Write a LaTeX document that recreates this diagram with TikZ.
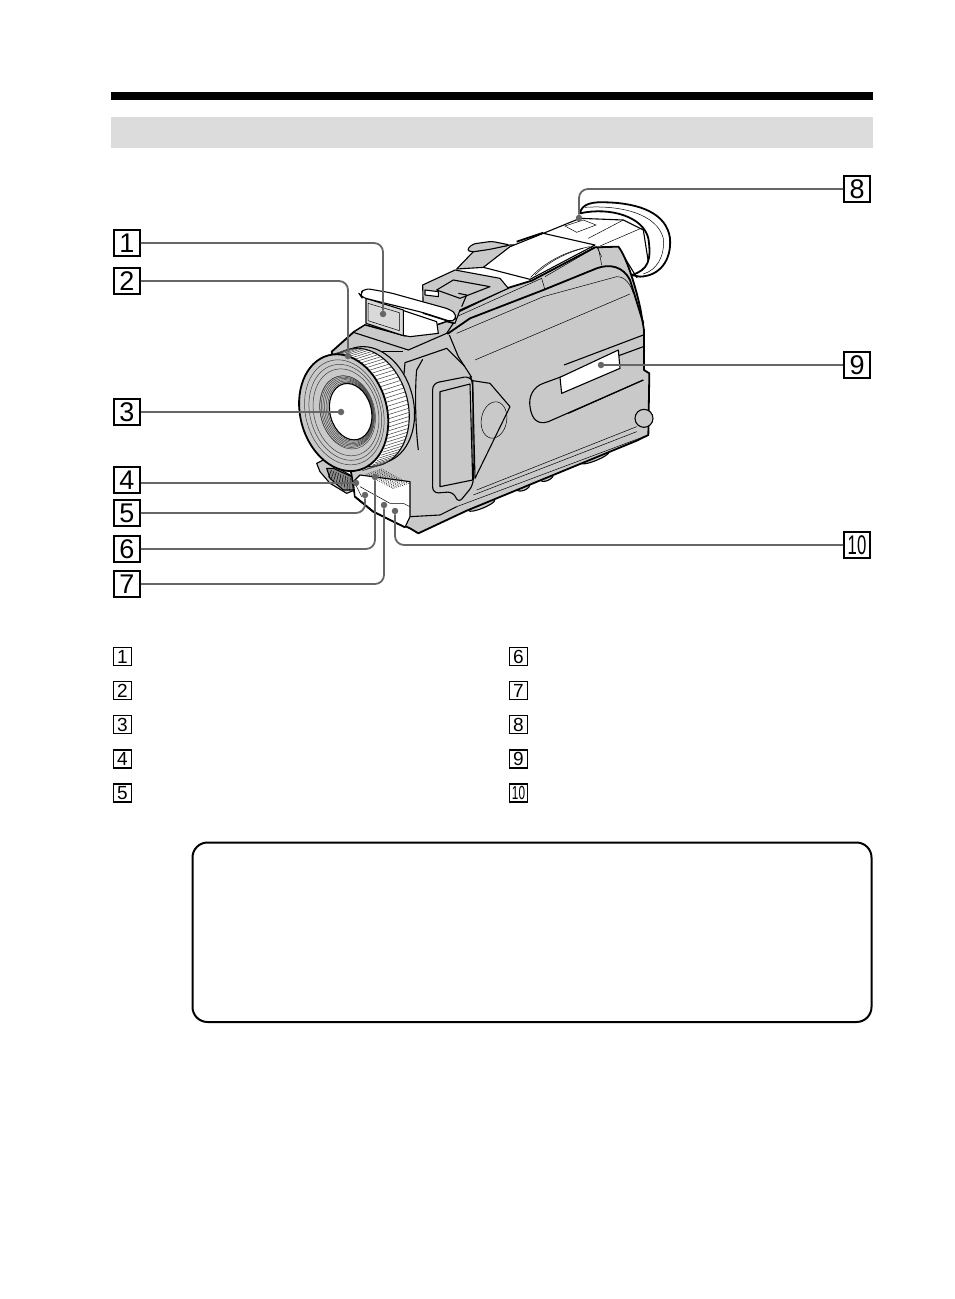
\documentclass[tikz,border=0pt]{standalone}
\usepackage{fontspec}
\setmainfont{Liberation Sans}
\usepackage{graphicx}
\usepackage{tikz}
\definecolor{bodygray}{HTML}{C9C9C9}
\definecolor{leadgray}{HTML}{666666}
\definecolor{bandgray}{HTML}{DCDCDC}
\tikzset{
    bignum/.style={draw=black, line width=1.9pt, minimum size=26pt, inner sep=0pt, font=\fontsize{27}{27}\selectfont},
    smallnum/.style={draw=black, line width=1.3pt, minimum size=18pt, inner sep=0pt, font=\fontsize{19}{19}\selectfont},
    leaddot/.style={circle, fill=leadgray, inner sep=0pt, minimum size=6.5pt},
    leadline/.style={draw=leadgray, line width=1.8pt, rounded corners=9pt},
    outline/.style={draw=black, line width=1.1pt, line join=round},
    heavy/.style={draw=black, line width=1.8pt, line join=round},
    fine/.style={draw=black, line width=0.5pt},
    hatch/.style={draw=black!75, line width=0.5pt}
}
\begin{document}
\begin{tikzpicture}[x=1pt, y=-1pt]
    \useasboundingbox (0, 0) rectangle (954, 1299);
    % Page furniture
    \fill [black] (111, 92) rectangle (873, 100);
    \fill [bandgray] (111, 117) rectangle (873, 148);
    \draw [line width=2pt, rounded corners=15pt] (192.5, 842.5) rectangle (871.5, 1022);
    % Camera, in the units of a 3x crop
    \begin{scope}[shift={(290, 170)}, scale=1/3]
        % Viewfinder tube
        \draw [outline, fill=white] (760, 190) -- (870, 145) -- (1000, 150) -- (1060, 180) -- (1078, 295) -- (1040, 322) -- (985, 232) -- (915, 237) -- cycle;
        % Strap and clip
        \draw [outline, fill=bodygray] (500, 297) -- (550, 245) -- (660, 225) -- (680, 225) -- (582, 292) -- cycle;
        \draw [outline, fill=bodygray, rounded corners=3pt] (530, 240) -- (548, 222) -- (605, 214) -- (660, 225) -- (600, 238) -- (545, 246) -- cycle;
        % Top plate
        \draw [outline, fill=white] (580, 292) -- (660, 230) -- (760, 190) -- (915, 225) -- (720, 328) -- cycle;
        \draw [heavy] (680, 215) -- (760, 188);
        \draw [fine] (722, 322) .. controls (770, 270) and (840, 240) .. (900, 230);
        \draw [fine] (735, 315) .. controls (780, 270) and (840, 245) .. (880, 235);
        \draw [fine] (895, 205) -- (1000, 150);
        \draw [fine] (930, 228) -- (1060, 172);
        \draw [fine, fill=white] (825, 168) -- (880, 150) -- (918, 165) -- (860, 187) -- cycle;
        % Eyecup
        \draw [heavy, fill=white] (870, 130) .. controls (875, 100) and (910, 95) .. (950, 97)
            .. controls (1050, 100) and (1130, 130) .. (1140, 205)
            .. controls (1145, 270) and (1110, 318) .. (1050, 320)
            -- (1025, 315) .. controls (1075, 300) and (1085, 270) .. (1075, 205)
            .. controls (1060, 140) and (960, 110) .. (870, 130) -- cycle;
        \draw [fine] (885, 112) .. controls (990, 105) and (1100, 130) .. (1120, 205) .. controls (1125, 260) and (1100, 300) .. (1060, 312);
        % Feet
        \foreach \footx/\footy/\footr in {575/1006/42, 700/952/20, 770/923/20, 915/863/45} {
            \draw [outline, fill=bodygray, rotate around={22:(\footx, \footy)}] (\footx, \footy) ellipse [x radius=\footr, y radius=9];
        }
        % Body
        \draw [heavy, fill=bodygray] (125, 545) -- (190, 487) -- (225, 465) -- (345, 498) -- (470, 455) -- (495, 430) -- (650, 355) -- (725, 332) -- (915, 232) -- (985, 230)
            .. controls (1010, 260) and (1040, 360) .. (1052, 420)
            -- (1062, 480) -- (1062, 600) -- (1078, 610) -- (1075, 795) -- (1040, 812) -- (530, 1022) -- (385, 1090) -- (360, 1075) -- (250, 1025) -- (195, 980) -- cycle;
        % Shoulder seams
        \draw [fine] (500, 440) -- (755, 325) -- (765, 360);
        \draw [fine] (765, 320) -- (920, 230) -- (935, 260);
        \draw [fine] (925, 232) -- (935, 285);
        % Cover
        \draw [heavy] (472, 492) -- (540, 445) -- (760, 360) -- (920, 295) .. controls (960, 280) and (1000, 290) .. (1020, 330) -- (1060, 460);
        \draw [outline] (478, 495) -- (505, 560) -- (545, 622);
        \draw [fine] (500, 490) -- (760, 380) -- (980, 320) .. controls (1005, 320) and (1020, 340) .. (1030, 370);
        \draw [fine] (555, 570) -- (1020, 372);
        \draw [fine] (550, 975) -- (1040, 785);
        \draw [fine] (560, 960) -- (1040, 770);
        \draw [fine] (500, 1010) -- (1075, 795);
        % Shoe
        \draw [outline, fill=bodygray] (398, 345) -- (495, 300) -- (630, 325) -- (655, 355) -- (510, 420) -- (495, 460) -- (400, 430) -- cycle;
        \draw [outline, fill=bodygray] (440, 360) -- (490, 330) -- (600, 350) -- (510, 385) -- cycle;
        \draw [outline, fill=white] (405, 360) -- (445, 365) -- (445, 380) -- (405, 375) -- cycle;
        \draw [outline] (505, 370) -- (530, 375) -- (515, 410);
        % Flash
        \draw [outline, fill=bodygray] (190, 487) -- (225, 465) -- (345, 498) -- (470, 455) -- (490, 460) -- (470, 490) -- (355, 540) -- cycle;
        \draw [outline, fill=white] (335, 420) -- (440, 455) -- (445, 490) -- (360, 500) -- (335, 495) -- cycle;
        \draw [outline, fill=bodygray!70] (228, 385) -- (340, 420) -- (340, 497) -- (228, 460) -- cycle;
        \draw [fine] (234, 400) -- (328, 428) -- (328, 482) -- (234, 452) -- cycle;
        \draw [outline, fill=white, rounded corners=5pt] (208, 372) -- (225, 355) -- (300, 368) -- (480, 418) -- (502, 435) -- (490, 457) -- (400, 428) -- (215, 382) -- cycle;
        % Cover window
        \draw [outline] (1060, 530) -- (760, 640) .. controls (730, 650) and (715, 680) .. (720, 710) .. controls (725, 750) and (745, 765) .. (775, 755) -- (1060, 630);
        \draw [outline, fill=white] (810, 622) -- (985, 540) -- (990, 595) -- (815, 670) -- cycle;
        \draw [outline] (822, 585) -- (1060, 495);
        \draw [outline] (835, 730) -- (1060, 630);
        % Grip side
        \draw [outline, fill=bodygray] (548, 632) -- (600, 640) -- (660, 710) -- (555, 925) -- cycle;
        \draw [fine, rotate around={-10:(612, 750)}] (612, 750) ellipse [x radius=38, y radius=55];
        \draw [outline, fill=bodygray, rounded corners=6pt] (428, 640) -- (540, 618) -- (548, 635) -- (550, 945) -- (505, 1000) -- (490, 965) -- (428, 970) -- cycle;
        \draw [outline, fill=bodygray] (450, 665) -- (540, 642) -- (548, 930) -- (450, 950) -- cycle;
        % Knob
        \draw [outline, fill=bodygray] (1062, 745) circle (27);
        % Front of the body
        \draw [outline] (342, 612) -- (345, 578) -- (470, 535) -- (525, 590);
        \draw [outline] (385, 840) .. controls (375, 760) and (375, 650) .. (380, 600) -- (398, 568);
        \draw [outline] (175, 545) -- (340, 545);
        \draw [outline] (360, 1040) -- (450, 1035) -- (500, 1010);
        % Focus knob and hatching
        \draw [outline, fill=bodygray] (80, 880) -- (100, 870) -- (180, 915) -- (195, 960) -- (170, 970) -- (120, 940) -- (90, 905) -- cycle;
        \draw [outline, fill=black!45] (110, 895) -- (130, 895) -- (185, 920) -- (190, 960) -- (160, 960) -- (120, 925) -- cycle;
        \foreach \k in {0, 1, ..., 8} {
            \draw [fine] ({125 + \k * 7}, {900 + \k * 3}) -- ({115 + \k * 8}, {922 + \k * 5});
        }
        % Speaker and lower plate
        \draw [outline, fill=white] (190, 935) -- (210, 915) -- (360, 935) -- (360, 1040) -- (345, 1072) -- (250, 1025) -- (195, 980) -- cycle;
        \foreach \rowy in {0, 1, ..., 8} {
            \foreach \colx in {0, 1, ..., 16} {
                \fill [black!85] ({275 + \colx * 5 - \rowy * 5.8}, {897 + \colx * 2.7 + \rowy * 1.9}) circle (1.5);
            }
        }
        \draw [fine] (195, 940) -- (215, 980);
        \draw [fine] (210, 950) -- (300, 1000) -- (340, 1000) -- (360, 1010);
        \draw [heavy] (195, 980) -- (250, 1025) -- (345, 1072);
        % Lens, back ring
        \draw [outline, fill=bodygray, rotate around={15:(240, 705)}] (240, 705) ellipse [x radius=130, y radius=178];
        \draw [outline, fill=white, rotate around={15:(222, 712)}] (222, 712) ellipse [x radius=132, y radius=180];
        % Knurled band
        \foreach \a in {-88, -84, ..., 112} {
            \draw [hatch] ({222 + 132 * cos(\a) * cos(15) - 180 * sin(\a) * sin(15)}, {712 - 132 * cos(\a) * sin(15) - 180 * sin(\a) * cos(15)})
                -- ({165 + 128 * cos(\a) * cos(15) - 180 * sin(\a) * sin(15)}, {730 - 128 * cos(\a) * sin(15) - 180 * sin(\a) * cos(15)});
        }
        % Lens, rings and glass
        \draw [heavy, fill=bodygray, rotate around={15:(161, 728)}] (161, 728) ellipse [x radius=130, y radius=178];
        \foreach \ringx/\ringr in {163/116, 166/106, 168/96, 173/81} {
            \draw [hatch, rotate around={15:(\ringx, 727)}] (\ringx, 727) ellipse [x radius=\ringr, y radius={\ringr * 1.38}];
        }
        \foreach \r in {0, 3, ..., 18} {
            \draw [hatch, rotate around={15:(182 - \r * 0.6, 725)}] ({182 - \r * 0.6}, 725) ellipse [x radius={62 + \r}, y radius={86 + \r * 1.3}];
        }
        \draw [outline, fill=white, rotate around={15:(182, 725)}] (182, 725) ellipse [x radius=62, y radius=86];
    \end{scope}
    % Leader ends
    \node [leaddot] (end1) at (383, 314) {};
    \node [leaddot] (end2) at (348, 356) {};
    \node [leaddot] (end3) at (341, 412) {};
    \node [leaddot] (end4) at (356, 483) {};
    \node [leaddot] (end5) at (365, 495) {};
    \node [leaddot] (end6) at (375, 477) {};
    \node [leaddot] (end7) at (384, 505) {};
    \node [leaddot] (end8) at (579, 218) {};
    \node [leaddot] (end9) at (601, 365) {};
    \node [leaddot] (end10) at (395, 511) {};
    % Callouts
    \node [bignum] (call1) at (127, 243) {1};
    \node [bignum] (call2) at (127, 281) {2};
    \node [bignum] (call3) at (127, 412) {3};
    \node [bignum] (call4) at (127, 480) {4};
    \node [bignum] (call5) at (127, 513) {5};
    \node [bignum] (call6) at (127, 549) {6};
    \node [bignum] (call7) at (127, 584) {7};
    \node [bignum] (call8) at (857, 189) {8};
    \node [bignum] (call9) at (857, 365) {9};
    \node [bignum] (call10) at (857, 545) {\scalebox{0.62}[1]{10}};
    % Leaders
    \draw [leadline] (call1) -| (end1);
    \draw [leadline] (call2) -| (end2);
    \draw [leadline] (call3.east |- end3) -- (end3);
    \draw [leadline] (call4.east |- end4) -- (end4);
    \draw [leadline] (call5) -| (end5);
    \draw [leadline] (call6) -| (end6);
    \draw [leadline] (call7) -| (end7);
    \draw [leadline] (call8) -| (end8);
    \draw [leadline] (call9) -- (end9);
    \draw [leadline] (call10) -| (end10);
    % Index, left column
    \node [smallnum] (list1) at (122.5, 656.5) {1};
    \node [smallnum] (list2) at (122.5, 690.5) {2};
    \node [smallnum] (list3) at (122.5, 724.5) {3};
    \node [smallnum] (list4) at (122.5, 759) {4};
    \node [smallnum] (list5) at (122.5, 793) {5};
    % Index, right column
    \node [smallnum] (list6) at (518.5, 656.5) {6};
    \node [smallnum] (list7) at (518.5, 690.5) {7};
    \node [smallnum] (list8) at (518.5, 724.5) {8};
    \node [smallnum] (list9) at (518.5, 759) {9};
    \node [smallnum] (list10) at (518.5, 793) {\scalebox{0.62}[1]{10}};
\end{tikzpicture}
\end{document}
